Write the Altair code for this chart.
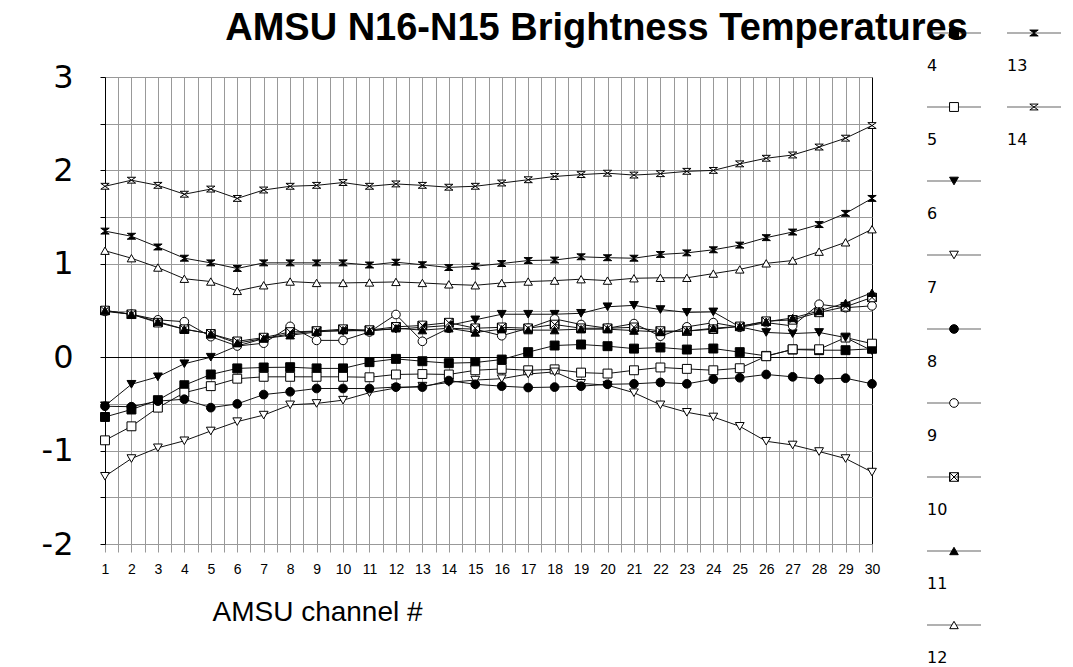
import altair as alt
import pandas as pd

# AMSU channel numbers along the x axis
channels = list(range(1, 31))

# N16 - N15 brightness temperature differences, one list per scan position series
s4 = [-0.64, -0.56, -0.46, -0.30, -0.185, -0.12, -0.11, -0.107, -0.12, -0.12,
      -0.053, -0.018, -0.043, -0.064, -0.057, -0.025, 0.054, 0.125, 0.136, 0.118,
      0.092, 0.104, 0.082, 0.093, 0.054, 0.014, 0.082, 0.075, 0.075, 0.09]
s5 = [-0.89, -0.74, -0.54, -0.38, -0.31, -0.23, -0.21, -0.21, -0.21, -0.21,
      -0.215, -0.185, -0.18, -0.185, -0.14, -0.125, -0.14, -0.13, -0.165, -0.175,
      -0.14, -0.11, -0.125, -0.14, -0.118, 0.01, 0.085, 0.085, 0.21, 0.145]
s6 = [-0.52, -0.29, -0.21, -0.07, 0.0, 0.12, 0.20, 0.25, 0.28, 0.28,
      0.29, 0.30, 0.32, 0.34, 0.40, 0.46, 0.46, 0.46, 0.47, 0.54,
      0.555, 0.51, 0.48, 0.485, 0.325, 0.265, 0.253, 0.265, 0.21, 0.07]
s7 = [-1.275, -1.085, -0.97, -0.895, -0.79, -0.69, -0.62, -0.51, -0.495, -0.46,
      -0.38, -0.33, -0.31, -0.27, -0.245, -0.23, -0.18, -0.157, -0.28, -0.30,
      -0.38, -0.51, -0.59, -0.64, -0.74, -0.90, -0.94, -1.01, -1.085, -1.23]
s8 = [-0.525, -0.53, -0.47, -0.45, -0.54, -0.50, -0.40, -0.37, -0.335, -0.335,
      -0.335, -0.32, -0.32, -0.25, -0.29, -0.31, -0.325, -0.32, -0.31, -0.29,
      -0.285, -0.27, -0.285, -0.235, -0.22, -0.185, -0.21, -0.235, -0.225, -0.285]
s9 = [0.49, 0.46, 0.40, 0.38, 0.22, 0.12, 0.15, 0.33, 0.18, 0.18,
      0.27, 0.457, 0.17, 0.31, 0.30, 0.23, 0.31, 0.41, 0.35, 0.31,
      0.36, 0.225, 0.325, 0.37, 0.32, 0.37, 0.335, 0.567, 0.53, 0.55]
s10 = [0.50, 0.46, 0.37, 0.30, 0.25, 0.17, 0.21, 0.27, 0.28, 0.30,
       0.29, 0.325, 0.34, 0.37, 0.31, 0.32, 0.31, 0.35, 0.31, 0.31,
       0.32, 0.28, 0.28, 0.30, 0.33, 0.385, 0.40, 0.48, 0.54, 0.64]
s11 = [0.50, 0.46, 0.38, 0.30, 0.25, 0.15, 0.20, 0.235, 0.27, 0.29,
       0.28, 0.31, 0.29, 0.31, 0.265, 0.30, 0.29, 0.29, 0.30, 0.30,
       0.285, 0.27, 0.28, 0.31, 0.33, 0.38, 0.42, 0.495, 0.58, 0.69]
s12 = [1.14, 1.06, 0.96, 0.84, 0.81, 0.71, 0.77, 0.81, 0.795, 0.795,
       0.80, 0.806, 0.795, 0.78, 0.77, 0.795, 0.81, 0.82, 0.835, 0.82,
       0.845, 0.85, 0.85, 0.895, 0.94, 1.005, 1.035, 1.13, 1.23, 1.37]
s13 = [1.35, 1.295, 1.18, 1.06, 1.01, 0.95, 1.01, 1.01, 1.01, 1.01,
       0.987, 1.017, 0.99, 0.96, 0.974, 1.003, 1.035, 1.04, 1.075, 1.065,
       1.06, 1.10, 1.117, 1.15, 1.20, 1.28, 1.34, 1.42, 1.54, 1.70]
s14 = [1.83, 1.895, 1.84, 1.745, 1.80, 1.70, 1.79, 1.83, 1.84, 1.87,
       1.83, 1.855, 1.84, 1.82, 1.83, 1.865, 1.90, 1.935, 1.955, 1.97,
       1.95, 1.965, 1.99, 2.00, 2.07, 2.13, 2.165, 2.25, 2.345, 2.48]

series_names = ["4", "5", "6", "7", "8", "9", "10", "11", "12", "13", "14"]
series_values = [s4, s5, s6, s7, s8, s9, s10, s11, s12, s13, s14]

# marker styling per series
HOURGLASS = "M-1,-0.7L1,-0.7L-1,0.7L1,0.7Z"
BOXED_BOWTIE = "M-1,-1H1V1H-1Z M-1,-1L1,1V-1L-1,1Z"
marker_shapes = ["square", "square", "triangle-down", "triangle-down", "circle",
                 "circle", BOXED_BOWTIE, "triangle-up", "triangle-up",
                 HOURGLASS, HOURGLASS]
marker_fills = ["black", "white", "black", "white", "black",
                "white", "white", "black", "white", "black", "white"]
marker_sizes = [80, 70, 80, 80, 70, 70, 80, 80, 80, 150, 150]
legend_sizes = [60, 55, 75, 75, 60, 60, 65, 75, 75, 130, 130]

# legend grid: nine entries in the first column, two in the second
legend_cols = [0, 0, 0, 0, 0, 0, 0, 0, 0, 1, 1]
legend_rows = [0, 1, 2, 3, 4, 5, 6, 7, 8, 0, 1]

records = []
for name, vals in zip(series_names, series_values):
    for ch, v in zip(channels, vals):
        records.append({"series": name, "channel": ch, "value": v})
df = pd.DataFrame(records)

legend_df = pd.DataFrame({"series": series_names, "col": legend_cols, "row": legend_rows})

FONT = "Liberation Sans"
WIDE_FONT = "DejaVu Sans"
GRID = "#999999"

x_steps = [1 + 0.5 * i for i in range(59)]
y_steps = [-2 + 0.5 * i for i in range(11)]

shape_scale = alt.Scale(domain=series_names, range=marker_shapes)
fill_scale = alt.Scale(domain=series_names, range=marker_fills)
size_scale = alt.Scale(domain=series_names, range=marker_sizes)
legend_size_scale = alt.Scale(domain=series_names, range=legend_sizes)

x_enc = alt.X(
    "channel:Q",
    scale=alt.Scale(domain=[1, 30], nice=False, zero=False),
    axis=alt.Axis(
        values=x_steps,
        labelExpr="datum.value % 1 == 0 ? '' + datum.value : ''",
        labelOverlap=False,
        labelFlush=False,
        labelFont=FONT,
        labelFontSize=14,
        labelColor="black",
        labelPadding=10,
        tickSize=8,
        tickColor=GRID,
        domain=False,
        gridColor={"condition": {"test": "datum.value == 30", "value": "black"}, "value": GRID},
        title="AMSU channel #",
        titleFont=FONT,
        titleFontSize=28,
        titleFontWeight="normal",
        titleColor="black",
        titleX=212,
        titleY=68,
        titleAlign="center",
        titleBaseline="middle",
    ),
)
y_enc = alt.Y(
    "value:Q",
    scale=alt.Scale(domain=[-2, 3], nice=False, zero=False),
    axis=alt.Axis(
        values=y_steps,
        labelExpr="datum.value % 1 == 0 ? '' + datum.value : ''",
        labelFont=WIDE_FONT,
        labelFontSize=32,
        labelColor="black",
        labelPadding=27,
        tickSize=5,
        tickColor="black",
        domainColor="black",
        gridColor={"condition": {"test": "datum.value == 0", "value": "black"}, "value": GRID},
        title=None,
    ),
)

lines = alt.Chart(df).mark_line(color="#111111", strokeWidth=1).encode(
    x=x_enc, y=y_enc, detail="series:N"
)
points = alt.Chart(df).mark_point(filled=True, stroke="black", strokeWidth=1, opacity=1).encode(
    x=x_enc,
    y=y_enc,
    shape=alt.Shape("series:N", scale=shape_scale, legend=None),
    fill=alt.Fill("series:N", scale=fill_scale, legend=None),
    size=alt.Size("series:O", scale=size_scale, legend=None),
)

main = alt.layer(lines, points).properties(
    width=767,
    height=467,
    title=alt.TitleParams(
        text="AMSU N16-N15 Brightness Temperatures",
        font=FONT,
        fontSize=38,
        fontWeight="bold",
        color="black",
        anchor="middle",
        frame="group",
        dx=108,
        offset=13,
    ),
)

lx = alt.X("col:Q", scale=alt.Scale(domain=[0, 1], range=[0, 80]), axis=None)
ly = alt.Y("row:Q", scale=alt.Scale(domain=[0, 8], range=[-44, 548]), axis=None)

leg_lines = alt.Chart(legend_df).mark_tick(
    orient="horizontal", size=54, thickness=1, color="#222222"
).encode(x=lx, y=ly)
leg_marks = alt.Chart(legend_df).mark_point(filled=True, stroke="black", strokeWidth=1, opacity=1).encode(
    x=lx,
    y=ly,
    shape=alt.Shape("series:N", scale=shape_scale, legend=None),
    fill=alt.Fill("series:N", scale=fill_scale, legend=None),
    size=alt.Size("series:O", scale=legend_size_scale, legend=None),
)
leg_text = alt.Chart(legend_df).mark_text(
    align="left", baseline="middle", dx=-27, dy=33, font=WIDE_FONT, fontSize=16, color="black"
).encode(x=lx, y=ly, text="series:N")

legend = alt.layer(leg_lines, leg_marks, leg_text).properties(
    width=80, height=467, view=alt.ViewBackground(strokeOpacity=0)
)

chart = (
    alt.hconcat(main, legend, spacing=82, bounds="flush")
    .properties(padding={"left": 40, "top": 9, "right": 0, "bottom": 0}, background="white")
    .configure_view(stroke=GRID, strokeWidth=1)
)

chart.save("out.html", embed_options={"renderer": "svg", "actions": False})
